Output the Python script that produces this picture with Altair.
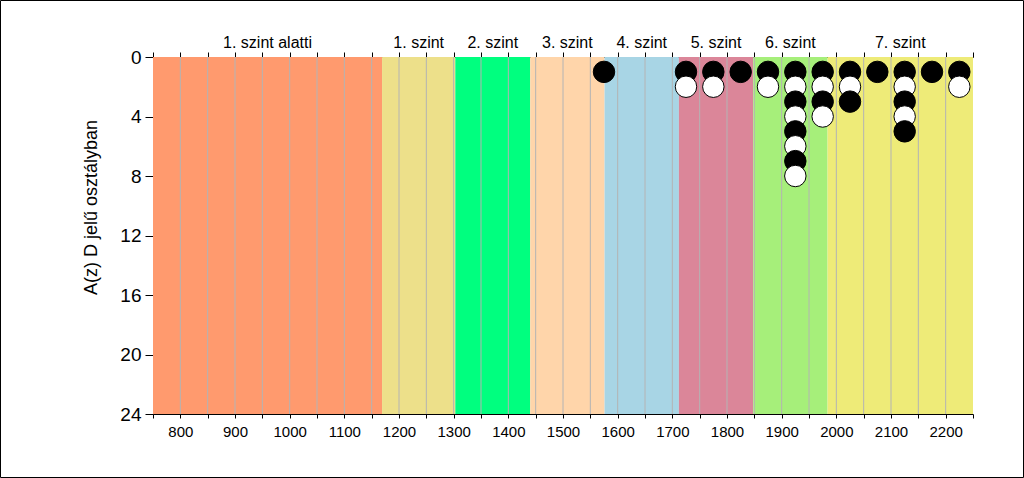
import altair as alt
import pandas as pd

# Level bands (ability levels)
level_names = ["1. szint alatti", "1. szint", "2. szint", "3. szint",
               "4. szint", "5. szint", "6. szint", "7. szint"]
level_start = [750, 1169, 1303, 1440, 1576, 1712, 1848, 1984]
level_end = [1169, 1303, 1440, 1576, 1712, 1848, 1984, 2250]
level_colors = ["#FF9A6E", "#EDE08A", "#00FF7F", "#FFD5AA",
                "#A8D5E5", "#DB8699", "#A6EF7A", "#EEEB78"]

# Dot-plot bins (bin centre) and number of students in each bin
bin_centers = [1575, 1725, 1775, 1825, 1875, 1925, 1975, 2025, 2075, 2125, 2175, 2225]
bin_counts = [1, 2, 2, 1, 2, 8, 4, 3, 1, 5, 1, 2]

x_ticks = list(range(750, 2251, 50))
grid_lines = list(range(800, 2201, 50))
y_ticks = [0, 4, 8, 12, 16, 20, 24]

FONT = "Liberation Sans"
W, H = 820, 357

bands = pd.DataFrame({
    "name": level_names,
    "start": level_start,
    "end": level_end,
    "color": level_colors,
    "mid": [(a + b) / 2 for a, b in zip(level_start, level_end)],
    "y0": 0,
    "y1": 24,
})

rows = []
for c, n in zip(bin_centers, bin_counts):
    for k in range(1, n + 1):
        rows.append({"x": c, "y": k, "fill": "black" if k % 2 == 1 else "white", "ord": k})
points = pd.DataFrame(rows)

grid = pd.DataFrame({"x": grid_lines})

xscale = alt.Scale(domain=[750, 2250], nice=False, zero=False)
yscale = alt.Scale(domain=[0, 24], reverse=True, nice=False)

y_axis = alt.Axis(values=y_ticks, tickSize=8, tickColor="black",
                  domainColor="black", labelFontSize=19, labelColor="black",
                  labelFont=FONT, labelPadding=4, grid=False,
                  title="A(z) D jelű osztályban", titleFontSize=18,
                  titleFont=FONT, titleFontWeight="normal", titleColor="black",
                  titlePadding=19, titleY=150)

band_layer = alt.Chart(bands).mark_rect().encode(
    x=alt.X("start:Q", scale=xscale,
            axis=alt.Axis(orient="bottom", values=x_ticks, format="d",
                          labelExpr="datum.value % 100 == 0 ? datum.label : ''",
                          tickSize=4, tickColor="black", domainColor="black",
                          labelFontSize=15, labelColor="black", labelFont=FONT,
                          labelPadding=6, grid=False, title=None)),
    x2="end:Q",
    y=alt.Y("y0:Q", scale=yscale, axis=y_axis),
    y2="y1:Q",
    fill=alt.Fill("color:N", scale=None),
)

grid_layer = alt.Chart(grid).mark_rule(color="#B4B4B4", strokeWidth=1).encode(
    x=alt.X("x:Q", scale=xscale,
            axis=alt.Axis(orient="top", values=x_ticks, labels=False,
                          tickSize=5, tickColor="black", domainColor="black",
                          grid=False, title=None)),
)

point_layer = alt.Chart(points).mark_circle(size=460, opacity=1, stroke="black",
                                             strokeWidth=1).encode(
    x=alt.X("x:Q", scale=xscale, axis=None),
    y=alt.Y("y:Q", scale=yscale, axis=y_axis),
    fill=alt.Fill("fill:N", scale=None),
    order=alt.Order("ord:Q"),
)

label_layer = alt.Chart(bands).mark_text(fontSize=16, font=FONT, color="black",
                                          baseline="middle", align="center").encode(
    x=alt.X("mid:Q", scale=xscale, axis=None),
    y=alt.value(-14),
    text="name:N",
)

frame = alt.Chart(bands.head(1)).mark_rect(fillOpacity=0, stroke="black", strokeWidth=1).encode(
    x=alt.value(-152.5), x2=alt.value(W + 50.5),
    y=alt.value(-56.5), y2=alt.value(H + 63.5),
)

chart = alt.layer(band_layer, grid_layer, point_layer, label_layer, frame).resolve_scale(
    x="shared", y="shared"
).resolve_axis(x="independent").properties(
    width=W, height=H,
    autosize=alt.AutoSizeParams(type="none"),
    padding={"left": 153, "top": 57, "right": 51, "bottom": 64},
    background="white",
).configure_view(stroke=None)

chart.save("out.html", embed_options={"renderer": "svg", "actions": False})
